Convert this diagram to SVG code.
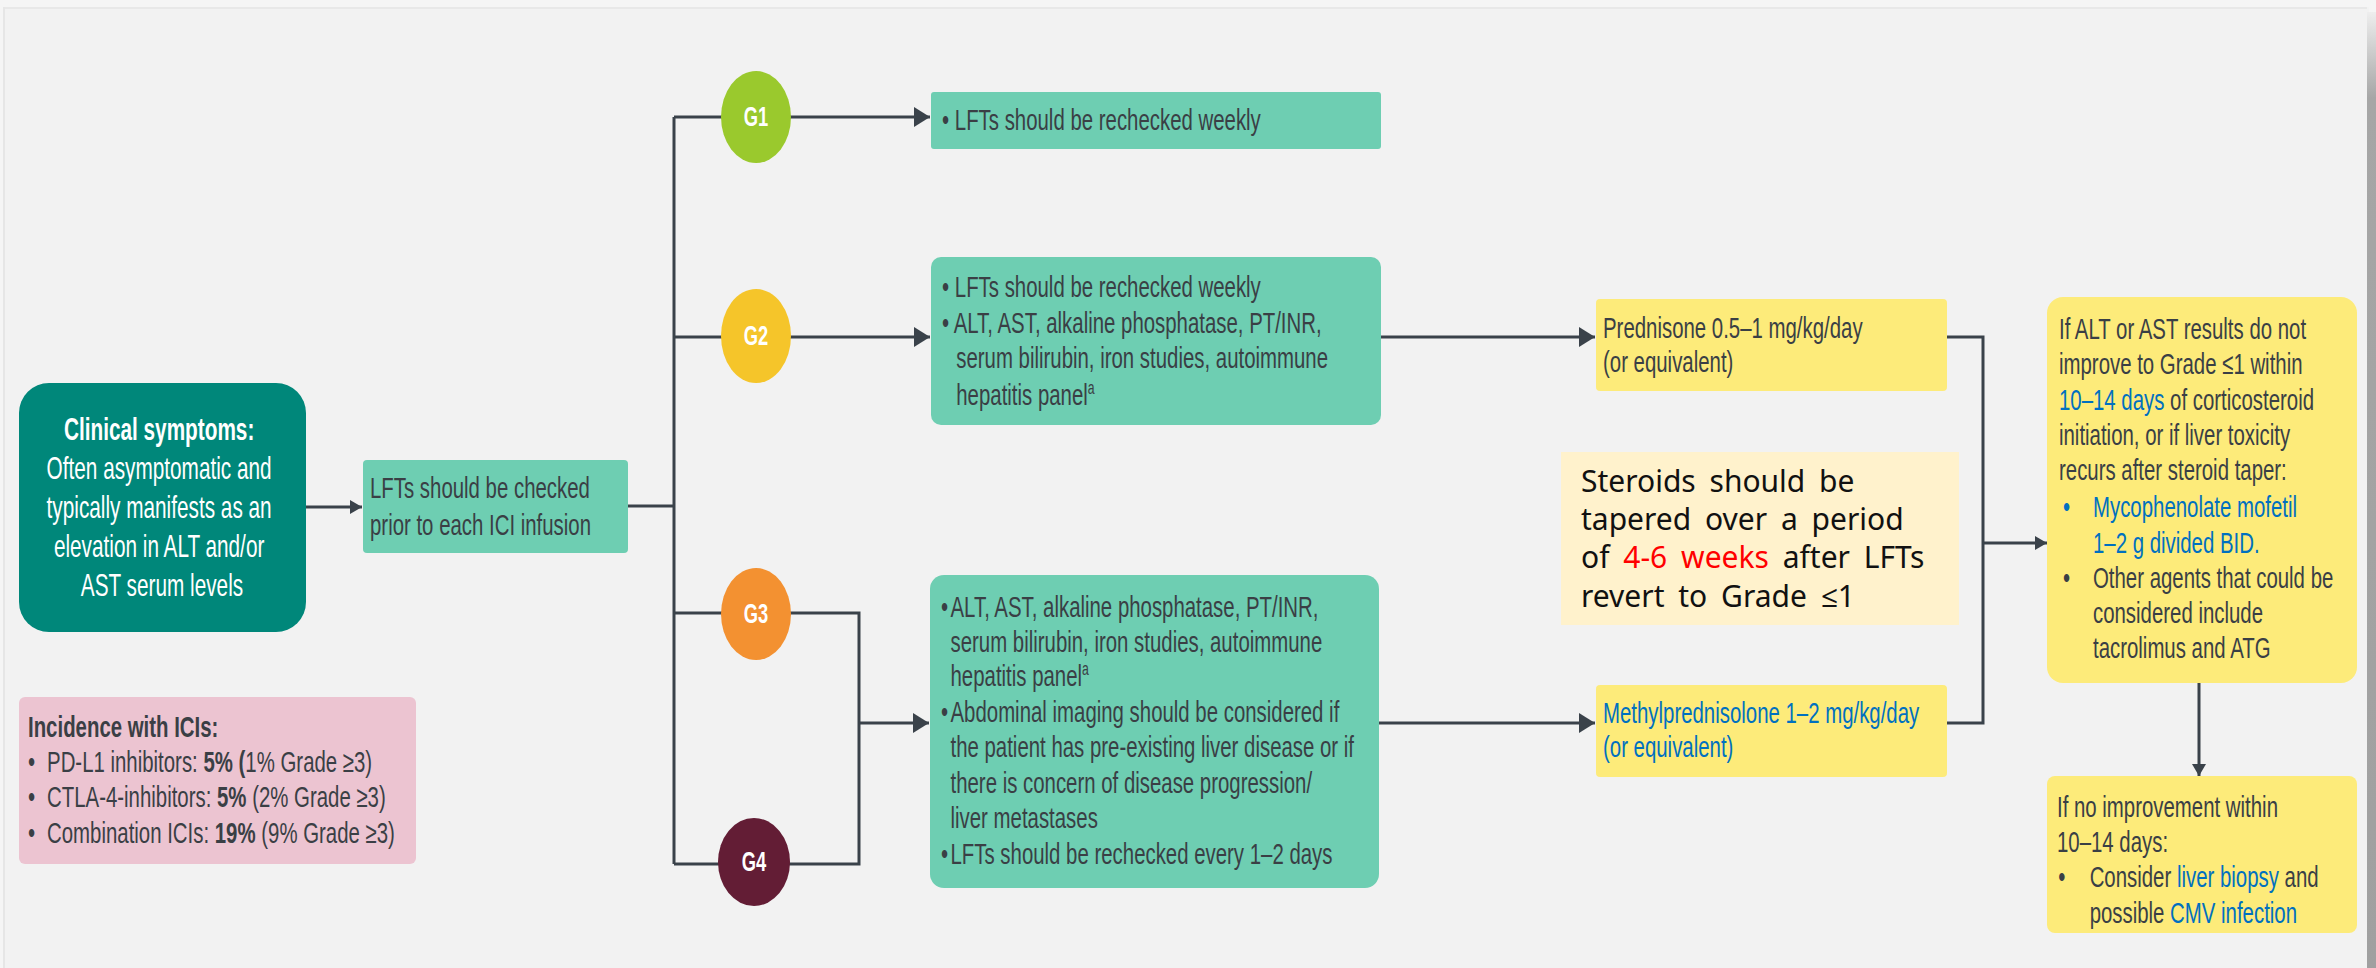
<svg xmlns="http://www.w3.org/2000/svg" width="2376" height="968" viewBox="0 0 2376 968">
  <defs>
    <style>
      .t { font-family: "Liberation Sans", Arial, sans-serif; font-size: 30px; fill: #3A3F45; }
      .b { font-weight: bold; }
      .w { fill: #FFFFFF; }
      .blue { fill: #0070C0; }
      .red { fill: #FF0000; }
      .note { font-family: "Noto Sans", "Open Sans", sans-serif; font-size: 30px; fill: #111111; word-spacing: 6px; }
      .conn { fill: none; stroke: #3A424A; stroke-width: 3; }
      .teal { fill: #6ECEB2; }
      .yel { fill: #FDEB7A; }
    </style>
    <marker id="arrowL" markerUnits="userSpaceOnUse" markerWidth="16" markerHeight="20" refX="16" refY="10" orient="auto">
      <path d="M0,0 L16,10 L0,20 Z" fill="#3A424A"/>
    </marker>
    <marker id="arrowS" markerUnits="userSpaceOnUse" markerWidth="12" markerHeight="14" refX="12" refY="7" orient="auto">
      <path d="M0,0 L12,7 L0,14 Z" fill="#3A424A"/>
    </marker>
    <linearGradient id="edge" x1="0" y1="0" x2="0" y2="1">
      <stop offset="0" stop-color="#EEEEEE"/>
      <stop offset="0.09" stop-color="#A6A6A6"/>
      <stop offset="1" stop-color="#A0A0A0"/>
    </linearGradient>
  </defs>

  <!-- page and panel -->
  <rect x="0" y="0" width="2376" height="968" fill="#F5F5F5"/>
  <rect x="3" y="7" width="2366" height="961" fill="#F2F2F2"/>
  <rect x="3" y="7" width="2364" height="2" fill="#E8E8E8"/>
  <rect x="3" y="7" width="2" height="961" fill="#E6E6E6"/>
  <rect x="2367" y="12" width="9" height="956" fill="url(#edge)"/>

  <!-- connectors -->
  <g id="connectors">
    <path class="conn" d="M306,507 H362" marker-end="url(#arrowS)"/>
    <path class="conn" d="M628,506 H674"/>
    <path class="conn" d="M674,117 V864"/>
    <path class="conn" d="M674,117 H930" marker-end="url(#arrowL)"/>
    <path class="conn" d="M674,337 H930" marker-end="url(#arrowL)"/>
    <path class="conn" d="M674,613 H859 V864 H674"/>
    <path class="conn" d="M859,723 H929" marker-end="url(#arrowL)"/>
    <path class="conn" d="M1381,337 H1595" marker-end="url(#arrowL)"/>
    <path class="conn" d="M1379,723 H1595" marker-end="url(#arrowL)"/>
    <path class="conn" d="M1947,337 H1983 V723 H1947"/>
    <path class="conn" d="M1983,543 H2047" marker-end="url(#arrowS)"/>
    <path class="conn" d="M2199,683 V776" marker-end="url(#arrowS)"/>
  </g>

  <!-- clinical symptoms -->
  <g id="clinical">
    <rect x="19" y="383" width="287" height="249" rx="30" fill="#00877A"/>
    <g transform="translate(162 0) scale(0.67 1)">
      <text class="t w" text-anchor="middle" style="font-size:31px">
        <tspan class="b" x="0" y="440">Clinical symptoms:</tspan>
        <tspan x="0" y="479">Often asymptomatic and</tspan>
        <tspan x="0" y="518">typically manifests as an</tspan>
        <tspan x="0" y="557">elevation in ALT and/or</tspan>
        <tspan x="0" y="596">AST serum levels</tspan>
      </text>
    </g>
  </g>

  <!-- LFT check -->
  <g id="lft-check">
    <rect class="teal" x="363" y="460" width="265" height="93" rx="4"/>
    <g transform="translate(370 0) scale(0.68 1)">
      <text class="t">
        <tspan x="0" y="498">LFTs should be checked</tspan>
        <tspan x="0" y="535">prior to each ICI infusion</tspan>
      </text>
    </g>
  </g>

  <!-- incidence -->
  <g id="incidence">
    <rect x="19" y="697" width="397" height="167" rx="6" fill="#ECC4D1"/>
    <g transform="translate(28 0) scale(0.68 1)">
      <text class="t">
        <tspan class="b" x="0" y="737">Incidence with ICIs:</tspan>
        <tspan x="0" y="772">•</tspan><tspan x="28" y="772">PD-L1 inhibitors: </tspan><tspan class="b">5% (</tspan><tspan>1% Grade ≥3)</tspan>
        <tspan x="0" y="807">•</tspan><tspan x="28" y="807">CTLA-4-inhibitors: </tspan><tspan class="b">5%</tspan><tspan> (2% Grade ≥3)</tspan>
        <tspan x="0" y="843">•</tspan><tspan x="28" y="843">Combination ICIs: </tspan><tspan class="b">19%</tspan><tspan> (9% Grade ≥3)</tspan>
      </text>
    </g>
  </g>

  <!-- grades -->
  <g id="g1">
    <ellipse cx="756" cy="117" rx="35" ry="46" fill="#9AC92D"/>
    <g transform="translate(756 0) scale(0.68 1)"><text class="t b w" x="0" y="126" text-anchor="middle" style="font-size:27px">G1</text></g>
  </g>
  <g id="g2">
    <ellipse cx="756" cy="336" rx="35" ry="47" fill="#F5C52A"/>
    <g transform="translate(756 0) scale(0.68 1)"><text class="t b w" x="0" y="345" text-anchor="middle" style="font-size:27px">G2</text></g>
  </g>
  <g id="g3">
    <ellipse cx="756" cy="614" rx="35" ry="46" fill="#F39131"/>
    <g transform="translate(756 0) scale(0.68 1)"><text class="t b w" x="0" y="623" text-anchor="middle" style="font-size:27px">G3</text></g>
  </g>
  <g id="g4">
    <ellipse cx="754" cy="862" rx="36" ry="44" fill="#631D35"/>
    <g transform="translate(754 0) scale(0.68 1)"><text class="t b w" x="0" y="871" text-anchor="middle" style="font-size:27px">G4</text></g>
  </g>

  <!-- grade actions -->
  <g id="g1-action">
    <rect class="teal" x="931" y="92" width="450" height="57" rx="3"/>
    <g transform="translate(942 0) scale(0.68 1)">
      <text class="t"><tspan x="0" y="130">• LFTs should be rechecked weekly</tspan></text>
    </g>
  </g>
  <g id="g2-action">
    <rect class="teal" x="931" y="257" width="450" height="168" rx="10"/>
    <g transform="translate(942 0) scale(0.68 1)">
      <text class="t">
        <tspan x="0" y="297">• LFTs should be rechecked weekly</tspan>
        <tspan x="0" y="333">• ALT, AST, alkaline phosphatase, PT/INR,</tspan>
        <tspan x="21" y="368">serum bilirubin, iron studies, autoimmune</tspan>
        <tspan x="21" y="405">hepatitis panel</tspan><tspan dy="-11" style="font-size:18px">a</tspan>
      </text>
    </g>
  </g>
  <g id="g34-action">
    <rect class="teal" x="930" y="575" width="449" height="313" rx="14"/>
    <g transform="translate(941 0) scale(0.68 1)">
      <text class="t">
        <tspan x="0" y="617">•</tspan><tspan x="14" y="617">ALT, AST, alkaline phosphatase, PT/INR,</tspan>
        <tspan x="14" y="652">serum bilirubin, iron studies, autoimmune</tspan>
        <tspan x="14" y="686">hepatitis panel</tspan><tspan dy="-11" style="font-size:18px">a</tspan>
        <tspan x="0" y="722">•</tspan><tspan x="14" y="722">Abdominal imaging should be considered if</tspan>
        <tspan x="14" y="757">the patient has pre-existing liver disease or if</tspan>
        <tspan x="14" y="793">there is concern of disease progression/</tspan>
        <tspan x="14" y="828">liver metastases</tspan>
        <tspan x="0" y="864">•</tspan><tspan x="14" y="864">LFTs should be rechecked every 1–2 days</tspan>
      </text>
    </g>
  </g>

  <!-- steroid treatment -->
  <g id="prednisone">
    <rect class="yel" x="1596" y="299" width="351" height="92" rx="4"/>
    <g transform="translate(1603 0) scale(0.68 1)">
      <text class="t">
        <tspan x="0" y="338">Prednisone 0.5–1 mg/kg/day</tspan>
        <tspan x="0" y="372">(or equivalent)</tspan>
      </text>
    </g>
  </g>
  <g id="methylprednisolone">
    <rect class="yel" x="1596" y="685" width="351" height="92" rx="4"/>
    <g transform="translate(1603 0) scale(0.68 1)">
      <text class="t blue">
        <tspan x="0" y="723">Methylprednisolone 1–2 mg/kg/day</tspan>
        <tspan x="0" y="757">(or equivalent)</tspan>
      </text>
    </g>
  </g>
  <g id="taper-note">
    <rect x="1561" y="452" width="398" height="173" fill="#FFF2CC"/>
    <text class="note">
      <tspan x="1581" y="492">Steroids should be</tspan>
      <tspan x="1581" y="530">tapered over a period</tspan>
      <tspan x="1581" y="568">of <tspan class="red">4-6 weeks</tspan> after LFTs</tspan>
      <tspan x="1581" y="607">revert to Grade ≤1</tspan>
    </text>
  </g>

  <!-- escalation -->
  <g id="escalation">
    <rect class="yel" x="2047" y="297" width="310" height="386" rx="16"/>
    <g transform="translate(2059 0) scale(0.68 1)">
      <text class="t">
        <tspan x="0" y="339">If ALT or AST results do not</tspan>
        <tspan x="0" y="374">improve to Grade ≤1 within</tspan>
        <tspan x="0" y="410" class="blue">10–14 days</tspan><tspan> of corticosteroid</tspan>
        <tspan x="0" y="445">initiation, or if liver toxicity</tspan>
        <tspan x="0" y="480">recurs after steroid taper:</tspan>
        <tspan x="6" y="517" class="blue">•</tspan><tspan x="50" y="517" class="blue">Mycophenolate mofetil</tspan>
        <tspan x="50" y="553" class="blue">1–2 g divided BID.</tspan>
        <tspan x="6" y="588">•</tspan><tspan x="50" y="588">Other agents that could be</tspan>
        <tspan x="50" y="623">considered include</tspan>
        <tspan x="50" y="658">tacrolimus and ATG</tspan>
      </text>
    </g>
  </g>
  <g id="no-improvement">
    <rect class="yel" x="2047" y="776" width="310" height="157" rx="8"/>
    <g transform="translate(2057 0) scale(0.68 1)">
      <text class="t">
        <tspan x="0" y="817">If no improvement within</tspan>
        <tspan x="0" y="852">10–14 days:</tspan>
        <tspan x="2" y="887">•</tspan><tspan x="48" y="887">Consider </tspan><tspan class="blue">liver biopsy</tspan><tspan> and</tspan>
        <tspan x="48" y="923">possible </tspan><tspan class="blue">CMV infection</tspan>
      </text>
    </g>
  </g>
</svg>
